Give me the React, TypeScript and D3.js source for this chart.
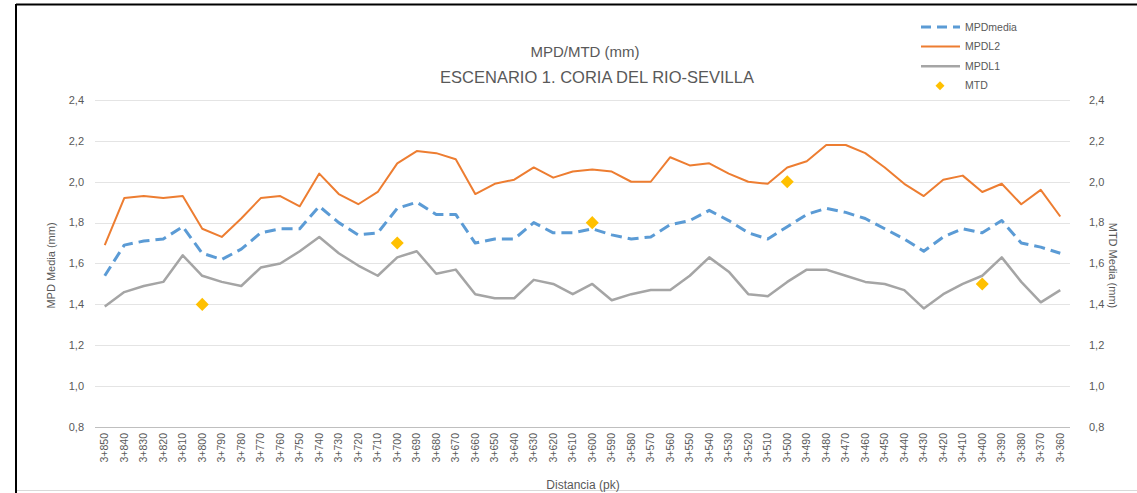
import React, { useEffect, useRef } from 'react';
import * as d3 from 'd3';

// pk labels, 3+850 down to 3+360 every 10 m
const categories = [
  '3+850', '3+840', '3+830', '3+820', '3+810', '3+800', '3+790', '3+780', '3+770', '3+760',
  '3+750', '3+740', '3+730', '3+720', '3+710', '3+700', '3+690', '3+680', '3+670', '3+660',
  '3+650', '3+640', '3+630', '3+620', '3+610', '3+600', '3+590', '3+580', '3+570', '3+560',
  '3+550', '3+540', '3+530', '3+520', '3+510', '3+500', '3+490', '3+480', '3+470', '3+460',
  '3+450', '3+440', '3+430', '3+420', '3+410', '3+400', '3+390', '3+380', '3+370', '3+360',
];

const mpdMedia = [
  1.54, 1.69, 1.71, 1.72, 1.78, 1.65, 1.62, 1.67, 1.75, 1.77,
  1.77, 1.88, 1.80, 1.74, 1.75, 1.87, 1.90, 1.84, 1.84, 1.70,
  1.72, 1.72, 1.80, 1.75, 1.75, 1.77, 1.74, 1.72, 1.73, 1.79,
  1.81, 1.86, 1.81, 1.75, 1.72, 1.78, 1.84, 1.87, 1.85, 1.82,
  1.77, 1.72, 1.66, 1.73, 1.77, 1.75, 1.81, 1.70, 1.68, 1.65,
];

const mpdL2 = [
  1.69, 1.92, 1.93, 1.92, 1.93, 1.77, 1.73, 1.82, 1.92, 1.93,
  1.88, 2.04, 1.94, 1.89, 1.95, 2.09, 2.15, 2.14, 2.11, 1.94,
  1.99, 2.01, 2.07, 2.02, 2.05, 2.06, 2.05, 2.00, 2.00, 2.12,
  2.08, 2.09, 2.04, 2.00, 1.99, 2.07, 2.10, 2.18, 2.18, 2.14,
  2.07, 1.99, 1.93, 2.01, 2.03, 1.95, 1.99, 1.89, 1.96, 1.83,
];

const mpdL1 = [
  1.39, 1.46, 1.49, 1.51, 1.64, 1.54, 1.51, 1.49, 1.58, 1.60,
  1.66, 1.73, 1.65, 1.59, 1.54, 1.63, 1.66, 1.55, 1.57, 1.45,
  1.43, 1.43, 1.52, 1.50, 1.45, 1.50, 1.42, 1.45, 1.47, 1.47,
  1.54, 1.63, 1.56, 1.45, 1.44, 1.51, 1.57, 1.57, 1.54, 1.51,
  1.50, 1.47, 1.38, 1.45, 1.50, 1.54, 1.63, 1.51, 1.41, 1.47,
];

// MTD measured every 100 m only
const mtd: (number | null)[] = [
  null, null, null, null, null, 1.40, null, null, null, null,
  null, null, null, null, null, 1.70, null, null, null, null,
  null, null, null, null, null, 1.80, null, null, null, null,
  null, null, null, null, null, 2.00, null, null, null, null,
  null, null, null, null, null, 1.50, null, null, null, null,
];

const yTicks = [0.8, 1.0, 1.2, 1.4, 1.6, 1.8, 2.0, 2.2, 2.4];

const W = 1137;
const H = 493;
const FONT = '"Liberation Sans", Arial, sans-serif';
const TEXT = '#595959';

const App = () => {
  const svgRef = useRef<SVGSVGElement>(null);

  useEffect(() => {
    const svg = d3.select(svgRef.current);
    svg.selectAll('*').remove();

    const plot = { left: 95, right: 1070, top: 100, bottom: 427 };

    const x = d3.scalePoint<string>()
      .domain(categories)
      .range([plot.left, plot.right])
      .padding(0.5);

    const y = d3.scaleLinear().domain([0.8, 2.4]).range([plot.bottom, plot.top]);
    const fmt = (v: number) => d3.format('.1f')(v).replace('.', ',');

    // frame
    svg.append('rect').attr('width', W).attr('height', H).attr('fill', '#fff');
    svg.append('line').attr('x1', 16).attr('x2', W).attr('y1', 4.5).attr('y2', 4.5)
      .attr('stroke', '#000').attr('stroke-width', 2);
    svg.append('line').attr('x1', 16).attr('x2', 16).attr('y1', 4).attr('y2', H)
      .attr('stroke', '#000').attr('stroke-width', 2);
    svg.append('line').attr('x1', 17).attr('x2', W).attr('y1', 490.5).attr('y2', 490.5)
      .attr('stroke', '#d9d9d9').attr('stroke-width', 1);

    // gridlines
    svg.append('g').selectAll('line').data(yTicks).enter().append('line')
      .attr('x1', plot.left).attr('x2', plot.right)
      .attr('y1', d => Math.round(y(d)) + 0.5).attr('y2', d => Math.round(y(d)) + 0.5)
      .attr('stroke', d => (d === 0.8 ? '#bfbfbf' : '#e4e4e4')).attr('stroke-width', 1);

    // left & right tick labels
    const tickG = svg.append('g').attr('font-family', FONT).attr('font-size', 11).attr('fill', TEXT);
    tickG.selectAll('text.l').data(yTicks).enter().append('text')
      .attr('class', 'l').attr('x', 84).attr('y', d => y(d)).attr('dy', '0.35em')
      .attr('text-anchor', 'end').text(fmt);
    tickG.selectAll('text.r').data(yTicks).enter().append('text')
      .attr('class', 'r').attr('x', 1089).attr('y', d => y(d)).attr('dy', '0.35em')
      .attr('text-anchor', 'start').text(fmt);

    // category labels
    svg.append('g').attr('font-family', FONT).attr('font-size', 10.5).attr('fill', TEXT)
      .selectAll('text').data(categories).enter().append('text')
      .attr('transform', d => `translate(${x(d)},${433}) rotate(-90)`)
      .attr('dy', '0.35em').attr('text-anchor', 'end').text(d => d);

    // axis titles
    svg.append('text').attr('transform', `translate(55,${(plot.top + plot.bottom) / 2 + 2}) rotate(-90)`)
      .attr('text-anchor', 'middle').attr('font-family', FONT).attr('font-size', 11).attr('fill', TEXT)
      .text('MPD Media (mm)');
    svg.append('text').attr('transform', `translate(1109,${(plot.top + plot.bottom) / 2 + 2}) rotate(90)`)
      .attr('text-anchor', 'middle').attr('font-family', FONT).attr('font-size', 11).attr('fill', TEXT)
      .text('MTD Media (mm)');
    svg.append('text').attr('x', 583).attr('y', 489).attr('text-anchor', 'middle')
      .attr('font-family', FONT).attr('font-size', 12).attr('fill', TEXT)
      .text('Distancia (pk)');

    // title
    const title = svg.append('text').attr('text-anchor', 'middle').attr('font-family', FONT)
      .attr('fill', TEXT);
    title.append('tspan').attr('x', 585).attr('y', 57).attr('font-size', 15).text('MPD/MTD (mm)');
    title.append('tspan').attr('x', 597).attr('y', 83).attr('font-size', 16.5)
      .text('ESCENARIO 1. CORIA DEL RIO-SEVILLA');

    const line = d3.line<number>()
      .x((_, i) => x(categories[i]) as number)
      .y(d => y(d));

    svg.append('path').datum(mpdL1).attr('d', line).attr('fill', 'none')
      .attr('stroke', '#a5a5a5').attr('stroke-width', 2.5).attr('stroke-linejoin', 'round');
    svg.append('path').datum(mpdL2).attr('d', line).attr('fill', 'none')
      .attr('stroke', '#ed7d31').attr('stroke-width', 2).attr('stroke-linejoin', 'round');
    svg.append('path').datum(mpdMedia).attr('d', line).attr('fill', 'none')
      .attr('stroke', '#5b9bd5').attr('stroke-width', 3).attr('stroke-dasharray', '11,6')
      .attr('stroke-linejoin', 'round');

    const diamond = d3.symbol().type(d3.symbolSquare).size(85);
    svg.append('g').selectAll('path')
      .data(mtd.map((v, i) => ({ v, c: categories[i] })).filter(d => d.v !== null))
      .enter().append('path')
      .attr('d', diamond)
      .attr('transform', d => `translate(${x(d.c)},${y(d.v as number)}) rotate(45)`)
      .attr('fill', '#ffc000');

    // legend
    const legend = [
      { name: 'MPDmedia', color: '#5b9bd5', width: 3, dash: '10,6', marker: false },
      { name: 'MPDL2', color: '#ed7d31', width: 2, dash: null, marker: false },
      { name: 'MPDL1', color: '#a5a5a5', width: 2.5, dash: null, marker: false },
      { name: 'MTD', color: '#ffc000', width: 0, dash: null, marker: true },
    ];
    const lg = svg.append('g').attr('font-family', FONT).attr('font-size', 10.5).attr('fill', TEXT);
    legend.forEach((d, i) => {
      const ly = 27 + i * 19.6;
      if (d.marker) {
        lg.append('path').attr('d', d3.symbol().type(d3.symbolSquare).size(40)())
          .attr('transform', `translate(940,${ly}) rotate(45)`).attr('fill', d.color);
      } else {
        const l = lg.append('line').attr('x1', 921).attr('x2', 960).attr('y1', ly).attr('y2', ly)
          .attr('stroke', d.color).attr('stroke-width', d.width);
        if (d.dash) l.attr('stroke-dasharray', d.dash);
      }
      lg.append('text').attr('x', 965).attr('y', ly).attr('dy', '0.35em').text(d.name);
    });
  }, []);

  return (
    <svg
      ref={svgRef}
      width={W}
      height={H}
      style={{ position: 'absolute', left: 0, top: 0, display: 'block' }}
    />
  );
};

export default App;
